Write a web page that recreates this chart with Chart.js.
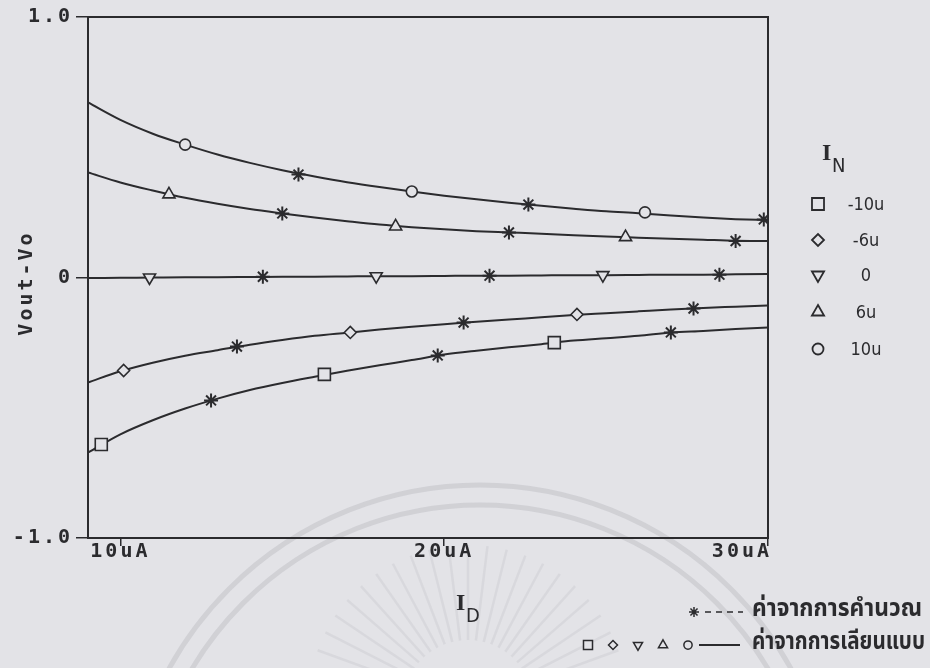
<!DOCTYPE html>
<html>
<head>
<meta charset="utf-8">
<title>Vout-Vo vs ID</title>
<script src="https://cdn.jsdelivr.net/npm/chart.js@4.4.0/dist/chart.umd.min.js"></script>
<style>
  html, body { margin: 0; padding: 0; background: #e3e3e7; }
  #wrap { width: 930px; height: 668px; }
</style>
</head>
<body>
<div id="wrap"><canvas id="chart" width="930" height="668"></canvas></div>
<script>
// I_D sweep (uA) for the simulated curves
const idSweep = [9, 10, 11, 12, 13, 14, 15, 16, 17, 18, 19, 20, 21, 22, 23, 24, 25, 26, 27, 28, 29, 30];

// simulated Vout-Vo for each I_N
const simNeg10 = [-0.672, -0.602, -0.548, -0.503, -0.465, -0.432, -0.405, -0.381, -0.358, -0.337, -0.317,
                  -0.296, -0.281, -0.268, -0.256, -0.242, -0.233, -0.224, -0.211, -0.205, -0.198, -0.192];
const simNeg6  = [-0.403, -0.360, -0.327, -0.300, -0.279, -0.258, -0.240, -0.224, -0.212, -0.200, -0.189,
                  -0.179, -0.170, -0.161, -0.153, -0.144, -0.137, -0.130, -0.123, -0.117, -0.112, -0.107];
const simZero  = [-0.002, -0.001, 0.000, 0.001, 0.001, 0.002, 0.003, 0.003, 0.004, 0.005, 0.005,
                  0.006, 0.007, 0.007, 0.008, 0.009, 0.009, 0.010, 0.011, 0.011, 0.012, 0.013];
const simPos6  = [0.403, 0.365, 0.334, 0.306, 0.283, 0.263, 0.246, 0.230, 0.216, 0.203, 0.193,
                  0.185, 0.178, 0.173, 0.168, 0.162, 0.157, 0.153, 0.149, 0.145, 0.141, 0.140];
const simPos10 = [0.672, 0.605, 0.552, 0.510, 0.472, 0.440, 0.412, 0.388, 0.366, 0.347, 0.330,
                  0.314, 0.300, 0.287, 0.275, 0.264, 0.254, 0.247, 0.238, 0.230, 0.224, 0.220];

// symbol positions along the simulated curves
const markNeg10X = [9.41, 16.3, 23.4];   const markNeg10Y = [-0.641, -0.372, -0.250];
const markNeg6X  = [10.1, 17.1, 24.1];   const markNeg6Y  = [-0.357, -0.211, -0.142];
const markZeroX  = [10.9, 17.9, 24.9];   const markZeroY  = [0.000, 0.005, 0.009];
const markPos6X  = [11.5, 18.5, 25.6];   const markPos6Y  = [0.319, 0.196, 0.155];
const markPos10X = [12.0, 19.0, 26.2];   const markPos10Y = [0.510, 0.330, 0.250];

// calculated values (asterisks)
const calcNeg10X = [12.8, 19.8, 27.0];   const calcNeg10Y = [-0.472, -0.299, -0.211];
const calcNeg6X  = [13.6, 20.6, 27.7];   const calcNeg6Y  = [-0.265, -0.173, -0.119];
const calcZeroX  = [14.4, 21.4, 28.5];   const calcZeroY  = [0.003, 0.007, 0.011];
const calcPos6X  = [15.0, 22.0, 29.0];   const calcPos6Y  = [0.246, 0.173, 0.140];
const calcPos10X = [15.5, 22.6, 29.87];  const calcPos10Y = [0.395, 0.280, 0.223];

const xTicks = [10, 20, 30];
const xTickLabels = ['10uA', '20uA', '30uA'];
const yTicks = [-1, 0, 1];
const yTickLabels = ['-1.0', '0', '1.0'];
const legendLabels = ['-10u', '-6u', '0', '6u', '10u'];
const calcLabel = 'ค่าจากการคำนวณ';
const simLabel = 'ค่าจากการเลียนแบบ';

const ink = '#2b2b2e';
const paper = '#e3e3e7';
const mono = "'DejaVu Sans Mono', 'Liberation Mono', monospace";
const thaiFont = "'Noto Sans Thai', 'Loma', 'Garuda', 'Tlwg Typo', 'Noto Sans', sans-serif";

const series = [
  { sim: simNeg10, mx: markNeg10X, my: markNeg10Y, cx: calcNeg10X, cy: calcNeg10Y, style: 'rect', rot: 0, r: 8.5 },
  { sim: simNeg6,  mx: markNeg6X,  my: markNeg6Y,  cx: calcNeg6X,  cy: calcNeg6Y,  style: 'rectRot', rot: 0, r: 6 },
  { sim: simZero,  mx: markZeroX,  my: markZeroY,  cx: calcZeroX,  cy: calcZeroY,  style: 'triangle', rot: 180, r: 7 },
  { sim: simPos6,  mx: markPos6X,  my: markPos6Y,  cx: calcPos6X,  cy: calcPos6Y,  style: 'triangle', rot: 0, r: 7 },
  { sim: simPos10, mx: markPos10X, my: markPos10Y, cx: calcPos10X, cy: calcPos10Y, style: 'circle', rot: 0, r: 5.5 }
];

const pairs = (xs, ys) => xs.map((x, i) => ({ x: x, y: ys[i] }));

const datasets = [];
series.forEach(s => {
  datasets.push({
    data: pairs(idSweep, s.sim),
    borderColor: ink, borderWidth: 2,
    pointRadius: 0, cubicInterpolationMode: 'monotone', order: 3
  });
  datasets.push({
    data: pairs(s.cx, s.cy),
    showLine: false, pointStyle: 'star', pointRadius: 7,
    pointBorderColor: ink, pointBorderWidth: 2, order: 2
  });
  datasets.push({
    data: pairs(s.mx, s.my),
    showLine: false, pointStyle: s.style, pointRotation: s.rot, pointRadius: s.r,
    pointBorderColor: ink, pointBackgroundColor: paper, pointBorderWidth: 1.6, order: 1
  });
});

// paper background plus the faint seal printed behind the graph
const paperPlugin = {
  id: 'paper',
  beforeDraw(chart) {
    const ctx = chart.ctx;
    ctx.save();
    ctx.fillStyle = paper;
    ctx.fillRect(0, 0, chart.width, chart.height);
    ctx.strokeStyle = 'rgba(160, 160, 170, 0.28)';
    ctx.lineWidth = 5;
    ctx.beginPath();
    ctx.arc(480, 840, 355, Math.PI, 2 * Math.PI);
    ctx.stroke();
    ctx.beginPath();
    ctx.arc(480, 840, 335, Math.PI, 2 * Math.PI);
    ctx.stroke();
    ctx.lineWidth = 2.5;
    ctx.strokeStyle = 'rgba(160, 160, 170, 0.16)';
    for (let a = 200; a <= 340; a += 7) {
      const t = a * Math.PI / 180;
      ctx.beginPath();
      ctx.moveTo(468 + Math.cos(t) * 65, 705 + Math.sin(t) * 65);
      ctx.lineTo(468 + Math.cos(t) * 160, 705 + Math.sin(t) * 160);
      ctx.stroke();
    }
    ctx.restore();
    ctx.letterSpacing = '3px';
  }
};

function drawCondensed(ctx, text, x, y, width) {
  const w = ctx.measureText(text).width;
  ctx.save();
  ctx.translate(x, y);
  ctx.scale(width / w, 1);
  ctx.fillText(text, 0, 0);
  ctx.restore();
}

// frame, axis titles, x tick labels and both legends
const annotatePlugin = {
  id: 'annotate',
  afterDraw(chart) {
    const ctx = chart.ctx;
    const area = chart.chartArea;
    const xs = chart.scales.x;
    const H = Chart.helpers;
    ctx.save();
    ctx.letterSpacing = '0px';
    ctx.strokeStyle = ink;
    ctx.lineWidth = 2;
    ctx.strokeRect(area.left, area.top, area.right - area.left, area.bottom - area.top);

    ctx.fillStyle = ink;
    ctx.letterSpacing = '3px';
    ctx.font = 'bold 20px ' + mono;
    ctx.textBaseline = 'middle';
    xTicks.forEach((v, i) => {
      const w = ctx.measureText(xTickLabels[i]).width;
      let x = xs.getPixelForValue(v) - w / 2;
      if (x + w > area.right + 4) x = area.right + 4 - w;
      ctx.textAlign = 'left';
      ctx.fillText(xTickLabels[i], x, 552);
    });

    // y title
    ctx.save();
    ctx.translate(27, 283);
    ctx.rotate(-Math.PI / 2);
    ctx.textAlign = 'center';
    ctx.fillText('Vout-Vo', 0, 0);
    ctx.restore();
    ctx.letterSpacing = '0px';

    // I_D and I_N
    ctx.textAlign = 'left';
    ctx.font = 'bold 24px "Liberation Serif", serif';
    ctx.fillText('I', 456, 604);
    ctx.font = '20px "DejaVu Sans Condensed", "DejaVu Sans", sans-serif';
    ctx.fillText('D', 466, 617);
    ctx.font = 'bold 24px "Liberation Serif", serif';
    ctx.fillText('I', 822, 154);
    ctx.font = '20px "DejaVu Sans Condensed", "DejaVu Sans", sans-serif';
    ctx.fillText('N', 832, 167);

    // I_N legend
    const rows = [204, 240, 275, 312, 349];
    ctx.font = '18px "DejaVu Sans Condensed", "DejaVu Sans", sans-serif';
    ctx.textAlign = 'center';
    series.forEach((s, i) => {
      ctx.strokeStyle = ink;
      ctx.fillStyle = paper;
      ctx.lineWidth = 1.8;
      H.drawPoint(ctx, { pointStyle: s.style, rotation: s.rot, radius: s.r, borderWidth: 1.8 }, 818, rows[i]);
      ctx.fillStyle = ink;
      ctx.fillText(legendLabels[i], 866, rows[i] + 1);
    });

    // series-type legend
    ctx.strokeStyle = ink;
    ctx.lineWidth = 1.5;
    H.drawPoint(ctx, { pointStyle: 'star', radius: 5, borderWidth: 1.5 }, 694, 612);
    ctx.setLineDash([6, 5]);
    ctx.beginPath();
    ctx.moveTo(705, 612);
    ctx.lineTo(743, 612);
    ctx.stroke();
    ctx.setLineDash([]);
    const bx = [588, 613, 638, 663, 688];
    series.forEach((s, i) => {
      ctx.fillStyle = paper;
      H.drawPoint(ctx, { pointStyle: s.style, rotation: s.rot, radius: s.r * 0.75, borderWidth: 1.5 }, bx[i], 645);
    });
    ctx.lineWidth = 2;
    ctx.beginPath();
    ctx.moveTo(699, 645);
    ctx.lineTo(740, 645);
    ctx.stroke();

    ctx.fillStyle = ink;
    ctx.textAlign = 'left';
    ctx.font = 'bold 24px ' + thaiFont;
    drawCondensed(ctx, calcLabel, 752, 611, 170);
    drawCondensed(ctx, simLabel, 752, 644, 173);
    ctx.restore();
  }
};

new Chart(document.getElementById('chart'), {
  type: 'line',
  data: { datasets: datasets },
  options: {
    responsive: false,
    animation: false,
    events: [],
    layout: { padding: { top: 17, right: 162, left: 0, bottom: 0 } },
    plugins: { legend: { display: false }, tooltip: { enabled: false } },
    scales: {
      x: {
        type: 'linear', min: 9, max: 30,
        afterBuildTicks: s => { s.ticks = xTicks.map(v => ({ value: v })); },
        afterFit: s => { s.height = 130; },
        grid: { display: true, drawOnChartArea: false, drawTicks: true, tickLength: 8, color: ink, lineWidth: 1.5 },
        border: { display: true, color: ink, width: 2 },
        ticks: { display: false }
      },
      y: {
        type: 'linear', min: -1, max: 1,
        afterBuildTicks: s => { s.ticks = yTicks.map(v => ({ value: v })); },
        afterFit: s => { s.width = 88; },
        grid: { display: true, drawOnChartArea: false, drawTicks: true, tickLength: 12, color: ink, lineWidth: 1.5 },
        border: { display: true, color: ink, width: 2 },
        ticks: {
          color: ink, padding: 3,
          font: { family: mono, size: 20, weight: 'bold' },
          callback: v => yTickLabels[yTicks.indexOf(v)]
        }
      }
    }
  },
  plugins: [paperPlugin, annotatePlugin]
});
</script>
</body>
</html>
